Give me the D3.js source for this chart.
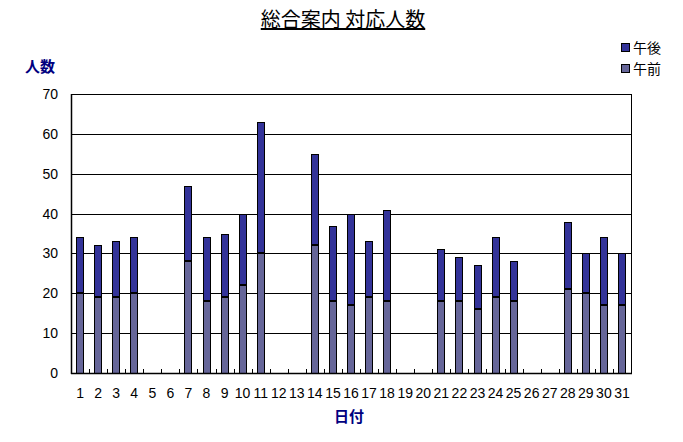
<!DOCTYPE html>
<html>
<head>
<meta charset="utf-8">
<script src="https://cdn.jsdelivr.net/npm/d3@7"></script>
<style>
  body { margin: 0; background: #fff; }
  svg { display: block; font-family: "Liberation Sans", Arial, sans-serif; }
</style>
</head>
<body>
<svg id="chart" width="683" height="442"></svg>
<script>
// 日付 (day of month)
var days = d3.range(1, 32).map(String);
// 午前 (morning) counts per day
var amValues = [20, 19, 19, 20, 0, 0, 28, 18, 19, 22, 30, 0, 0, 32, 18, 17, 19, 18, 0, 0,
                18, 18, 16, 19, 18, 0, 0, 21, 20, 17, 17];
// 午後 (afternoon) counts per day
var pmValues = [14, 13, 14, 14, 0, 0, 19, 16, 16, 18, 33, 0, 0, 23, 19, 23, 14, 23, 0, 0,
                13, 11, 11, 15, 10, 0, 0, 17, 10, 17, 13];
var yTicks = [0, 10, 20, 30, 40, 50, 60, 70];

var seriesNames = ["午前", "午後"];
var seriesColors = { "午前": "#666699", "午後": "#333399" };

var svg = d3.select("#chart");
var plotLeft = 71, plotRight = 631, plotTop = 94, plotBottom = 373;

var rows = days.map(function (d, i) {
  return { day: d, "午前": amValues[i], "午後": pmValues[i] };
});

var x = d3.scaleBand()
  .domain(days)
  .range([plotLeft, plotRight])
  .paddingInner(0.62)
  .paddingOuter(0.31);

var y = d3.scaleLinear().domain([0, 70]).range([plotBottom, plotTop]);

// Gridlines
svg.append("g")
  .selectAll("line")
  .data(yTicks.slice(1))
  .enter()
  .append("line")
  .attr("x1", plotLeft)
  .attr("x2", plotRight)
  .attr("y1", function (d) { return Math.round(y(d)) + 0.5; })
  .attr("y2", function (d) { return Math.round(y(d)) + 0.5; })
  .attr("stroke", "black")
  .attr("stroke-width", 1);

// Right border
svg.append("line")
  .attr("x1", plotRight + 0.5).attr("x2", plotRight + 0.5)
  .attr("y1", plotTop).attr("y2", plotBottom)
  .attr("stroke", "black");

// Stacked bars
var stack = d3.stack().keys(seriesNames);
var layers = stack(rows);

svg.append("g")
  .selectAll("g")
  .data(layers)
  .enter()
  .append("g")
  .attr("fill", function (d) { return seriesColors[d.key]; })
  .each(function (layer, li) {
    d3.select(this)
      .selectAll("rect")
      .data(layer.filter(function (p) { return p[1] > p[0]; }))
      .enter()
      .append("rect")
      .attr("x", function (d) { return Math.floor(x(d.data.day)) + 0.5; })
      .attr("y", function (d) { return Math.round(y(d[1])) + 0.5; })
      .attr("width", Math.round(x.bandwidth()))
      .attr("height", function (d) {
        // upper segment stops 1px short so the join shows as a thick black line
        return Math.round(y(d[0])) - Math.round(y(d[1])) - (li > 0 && d[0] > 0 ? 1 : 0);
      })
      .attr("stroke", "black")
      .attr("stroke-width", 1);
  });

// Axis lines
svg.append("line")
  .attr("x1", plotLeft + 0.5).attr("x2", plotLeft + 0.5)
  .attr("y1", plotTop).attr("y2", plotBottom + 1)
  .attr("stroke", "black").attr("stroke-width", 1.5);
svg.append("line")
  .attr("x1", plotLeft).attr("x2", plotRight + 1)
  .attr("y1", plotBottom + 0.5).attr("y2", plotBottom + 0.5)
  .attr("stroke", "black").attr("stroke-width", 1.5);

// Category tick marks (inside, at boundaries)
var step = x.step();
svg.append("g")
  .selectAll("line")
  .data(days.slice(1))
  .enter()
  .append("line")
  .attr("x1", function (d) { return Math.round(x(d) - x.paddingInner() * step / 2) + 0.5; })
  .attr("x2", function (d) { return Math.round(x(d) - x.paddingInner() * step / 2) + 0.5; })
  .attr("y1", plotBottom - 4)
  .attr("y2", plotBottom)
  .attr("stroke", "black");

// Y tick labels
svg.append("g")
  .selectAll("text")
  .data(yTicks)
  .enter()
  .append("text")
  .attr("x", 58)
  .attr("y", function (d) { return y(d) + 5; })
  .attr("text-anchor", "end")
  .attr("font-size", 14)
  .text(function (d) { return d; });

// X tick labels
svg.append("g")
  .selectAll("text")
  .data(days)
  .enter()
  .append("text")
  .attr("x", function (d) { return x(d) + x.bandwidth() / 2; })
  .attr("y", 398)
  .attr("text-anchor", "middle")
  .attr("font-size", 14)
  .text(function (d) { return d; });

// Title
var jp = '"Noto Sans CJK JP", sans-serif';
svg.append("text")
  .attr("x", 343)
  .attr("y", 27)
  .attr("text-anchor", "middle")
  .attr("font-family", jp)
  .attr("font-size", 20)
  .attr("text-decoration", "underline")
  .text("総合案内 対応人数");

// Axis titles
svg.append("text")
  .attr("x", 40).attr("y", 72)
  .attr("text-anchor", "middle")
  .attr("font-family", jp)
  .attr("font-size", 15)
  .attr("font-weight", "bold")
  .attr("fill", "#000080")
  .text("人数");

svg.append("text")
  .attr("x", 349).attr("y", 422)
  .attr("text-anchor", "middle")
  .attr("font-family", jp)
  .attr("font-size", 15)
  .attr("font-weight", "bold")
  .attr("fill", "#000080")
  .text("日付");

// Legend
var legendData = ["午後", "午前"];
var legendItems = svg.append("g")
  .attr("transform", "translate(621, 43)")
  .selectAll("g")
  .data(legendData)
  .enter()
  .append("g")
  .attr("transform", function (d, i) { return "translate(0," + i * 21 + ")"; });

legendItems.append("rect")
  .attr("x", 0.5).attr("y", 0.5)
  .attr("width", 8).attr("height", 8)
  .attr("fill", function (d) { return seriesColors[d]; })
  .attr("stroke", "black");

legendItems.append("text")
  .attr("x", 12).attr("y", 10)
  .attr("font-family", jp)
  .attr("font-size", 14)
  .text(function (d) { return d; });
</script>
</body>
</html>
